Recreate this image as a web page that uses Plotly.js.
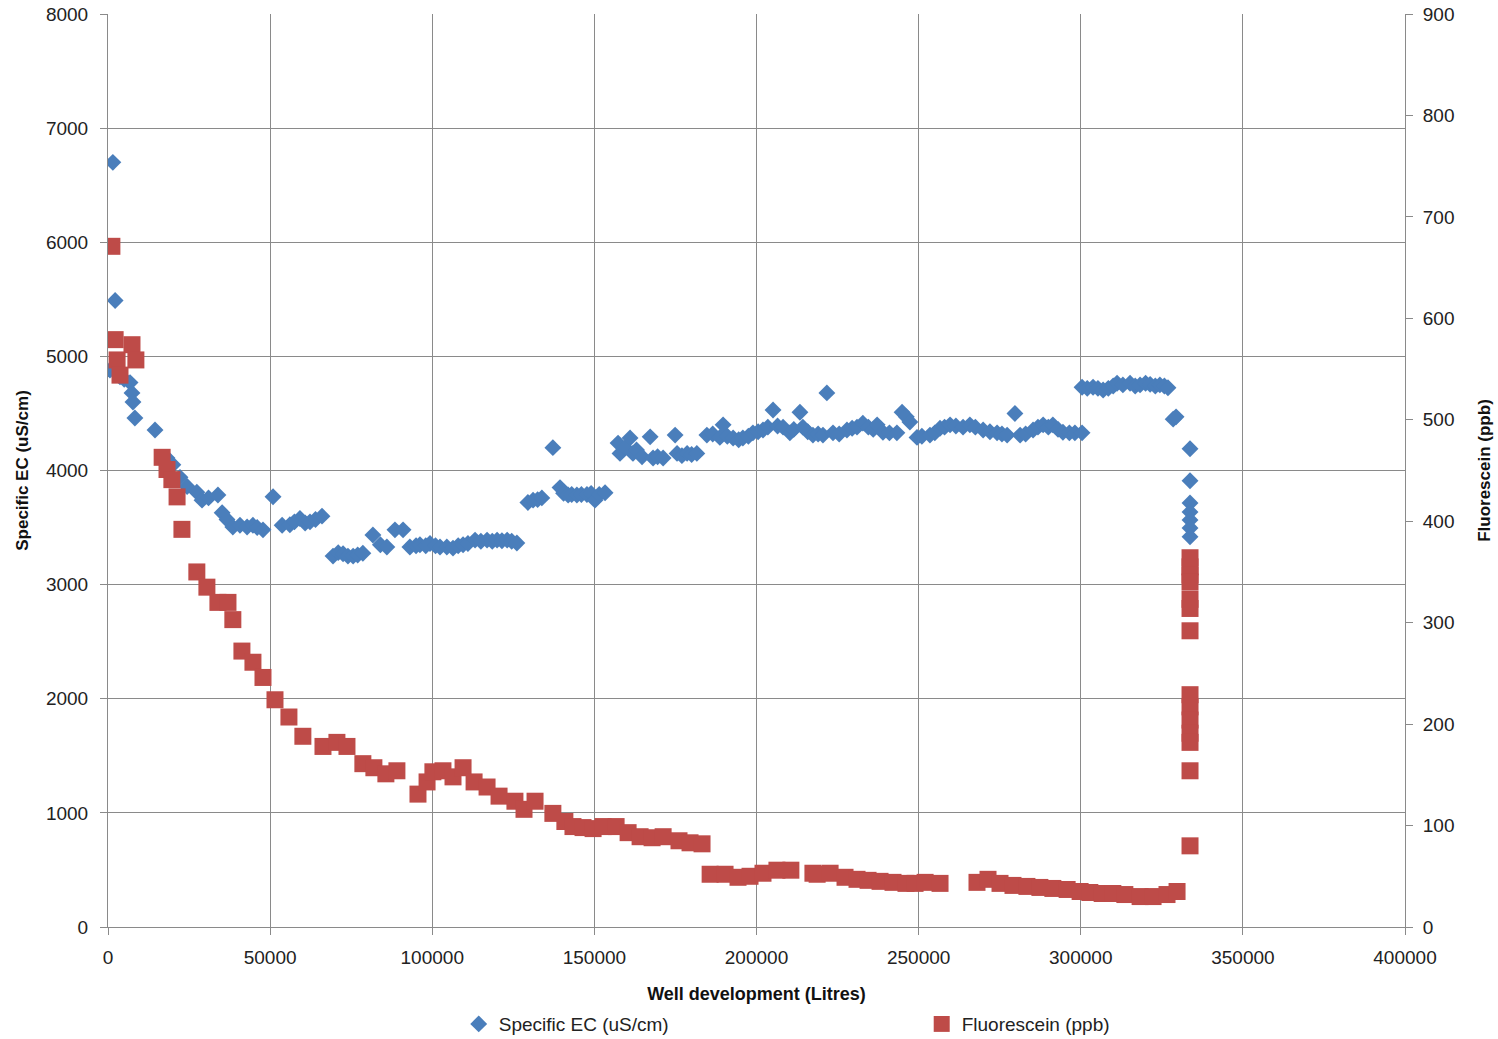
<!DOCTYPE html>
<html>
<head>
<meta charset="utf-8">
<script src="https://cdn.plot.ly/plotly-3.0.1.min.js"></script>
<style>html,body{margin:0;padding:0;background:#fff;}#chart{width:1498px;height:1039px;}</style>
</head>
<body>
<div id="chart"></div>
<script>
// Specific EC (uS/cm) vs well development (Litres)
const ecX = [600,1500,2200,3000,3700,5000,6800,7400,7700,8300,14500,18200,20000,22200,24400,27400,29000,31000,33900,35200,36700,38500,40700,42900,44700,46000,47800,50900,53700,56100,57500,59200,60800,62300,64000,66000,69400,71000,72500,74000,75600,77000,78600,81700,84000,86000,88500,91000,93100,95000,96200,98000,99300,101000,102400,104500,106400,108000,109500,111000,113200,115000,116900,118500,120000,121500,123100,124500,126100,129500,131100,132500,133800,137200,139400,140500,141900,143000,144600,146000,147700,149000,150200,151500,153300,157300,157900,159500,161000,161900,163000,164700,167200,168100,169500,171200,174900,175500,177000,178600,180000,181600,184700,186500,188700,189700,191000,192800,194500,195800,197500,198900,200500,202000,203500,205100,206500,208200,210300,211500,213400,214300,215800,217400,219000,220500,221700,223600,225500,227900,229500,231000,232800,234500,236000,237200,239000,241000,243300,244900,246200,247300,249500,251000,253500,255000,256600,258000,259700,261500,263700,265800,267500,269900,272000,274200,275700,277300,279700,281300,283000,285300,286800,288400,290000,291400,293000,294500,296500,298200,300400,300400,302000,303800,305300,306900,308500,310000,311200,313000,315200,316800,318300,320000,321400,323000,324400,325800,326900,328500,329400,333700,333700,333700,333700,333700,333700,333700];
const ecY = [4880,6700,5490,4850,4820,4800,4770,4680,4600,4460,4355,4110,4050,3940,3860,3810,3740,3760,3785,3630,3570,3505,3520,3505,3520,3500,3480,3770,3520,3525,3550,3580,3540,3550,3570,3600,3250,3280,3270,3250,3250,3260,3275,3435,3350,3330,3480,3480,3330,3340,3350,3340,3360,3340,3330,3330,3320,3340,3350,3360,3390,3380,3390,3380,3390,3385,3390,3380,3365,3720,3740,3745,3760,4200,3850,3800,3785,3790,3785,3790,3790,3800,3740,3790,3805,4240,4150,4200,4285,4150,4180,4120,4295,4110,4120,4110,4310,4150,4130,4150,4140,4150,4310,4320,4290,4400,4300,4285,4270,4285,4300,4330,4340,4355,4380,4530,4390,4380,4330,4360,4510,4380,4340,4310,4320,4310,4680,4330,4320,4355,4370,4380,4415,4380,4360,4400,4335,4330,4330,4510,4470,4425,4290,4300,4310,4330,4370,4380,4400,4390,4380,4400,4380,4355,4340,4330,4320,4310,4500,4310,4320,4355,4380,4400,4380,4400,4360,4335,4330,4330,4330,4730,4720,4730,4720,4705,4720,4740,4765,4750,4765,4740,4750,4765,4755,4740,4750,4740,4725,4450,4470,4190,3910,3715,3636,3566,3496,3420];

// Fluorescein (ppb) vs well development (Litres)
const flX = [1200,2200,2800,3700,7400,8600,16700,18200,19700,21300,22800,27400,30500,33900,37000,38500,41300,44700,47800,51500,55800,60100,66300,70600,73700,78600,82000,85700,89100,95600,98400,100200,103300,106400,109500,112900,116900,120600,125500,128300,131700,137200,140900,143400,146500,149600,152700,156700,160400,164100,167800,171200,176100,179500,183200,185700,190300,194300,198000,202000,206300,210600,217400,218700,222700,227300,231000,234400,238100,242100,246100,248900,252000,256600,268000,271400,275100,279100,283400,287400,291400,295800,299800,302800,306600,309900,313600,318300,322300,326600,329700,333700,333700,333700,333700,333700,333700,333700,333700,333700,333700,333700,333700,333700,333700];
const flY = [671,579,559,544,574,559,463,451,441,424,392,350,335,320,320,303,272,261,246,224,207,188,178,182,178,161,157,151,154,131,143,153,154,148,157,143,138,129,124,116,124,112,104,99,98,97,99,99,93,89,88,89,85,83,82,52,52,49,50,53,56,56,53,52,53,49,47,46,45,44,43,43,44,43,44,47,43,41,40,39,38,37,35,34,33,33,32,30,30,32,35,364,355,347,340,323,314,292,229,217,204,191,182,154,80];

const seriesNames = ['Specific EC (uS/cm)', 'Fluorescein (ppb)'];
const xTitle = 'Well development (Litres)';
const yTitle = 'Specific EC (uS/cm)';
const y2Title = 'Fluorescein (ppb)';

const FONT = 'Liberation Sans, Arial, sans-serif';
const GRID = '#8a8a8a';

const traces = [
  {x: ecX, y: ecY, name: seriesNames[0], type: 'scatter', mode: 'markers',
   marker: {symbol: 'diamond', size: 13, color: '#4A7EBB'}, yaxis: 'y'},
  {x: flX, y: flY, name: seriesNames[1], type: 'scatter', mode: 'markers',
   marker: {symbol: 'square', size: 17, color: '#BE4B48'}, yaxis: 'y2'}
];

const layout = {
  width: 1498, height: 1039,
  margin: {l: 108, r: 93, t: 14, b: 112, autoexpand: false},
  paper_bgcolor: '#fff', plot_bgcolor: '#fff',
  font: {family: FONT, size: 19, color: '#222'},
  showlegend: true,
  legend: {orientation: 'h', x: 0.2704, xanchor: 'left', xref: 'paper',
           y: 0.0144, yanchor: 'middle', yref: 'container',
           entrywidth: 418, entrywidthmode: 'pixels',
           font: {family: FONT, size: 19, color: '#222'}},
  xaxis: {range: [0, 400000], dtick: 50000, tick0: 0, tickformat: 'd',
          showgrid: true, gridcolor: GRID, gridwidth: 1, zeroline: false,
          showline: true, linecolor: GRID, ticks: 'outside', ticklen: 7, tickcolor: GRID,
          ticklabelstandoff: 6,
          tickfont: {family: FONT, size: 19, color: '#222'},
          title: {text: xTitle, font: {family: FONT, size: 18, color: '#111', weight: 'bold'}, standoff: 20}},
  yaxis: {range: [0, 8000], dtick: 1000, tick0: 0, tickformat: 'd',
          showgrid: true, gridcolor: GRID, gridwidth: 1, zeroline: false,
          showline: true, linecolor: GRID, ticks: 'outside', ticklen: 7, tickcolor: GRID,
          ticklabelstandoff: 8,
          tickfont: {family: FONT, size: 19, color: '#222'},
          title: {text: yTitle, font: {family: FONT, size: 17, color: '#111', weight: 'bold'}, standoff: 12}},
  yaxis2: {range: [0, 900], dtick: 100, tick0: 0, overlaying: 'y', side: 'right',
           showgrid: false, zeroline: false, showline: true, linecolor: GRID,
           ticks: 'outside', ticklen: 7, tickcolor: GRID,
           ticklabelstandoff: 6,
           tickfont: {family: FONT, size: 19, color: '#222'},
           title: {text: y2Title, font: {family: FONT, size: 17, color: '#111', weight: 'bold'}, standoff: 24}}
};

Plotly.newPlot('chart', traces, layout, {displayModeBar: false, staticPlot: true});
</script>
</body>
</html>
